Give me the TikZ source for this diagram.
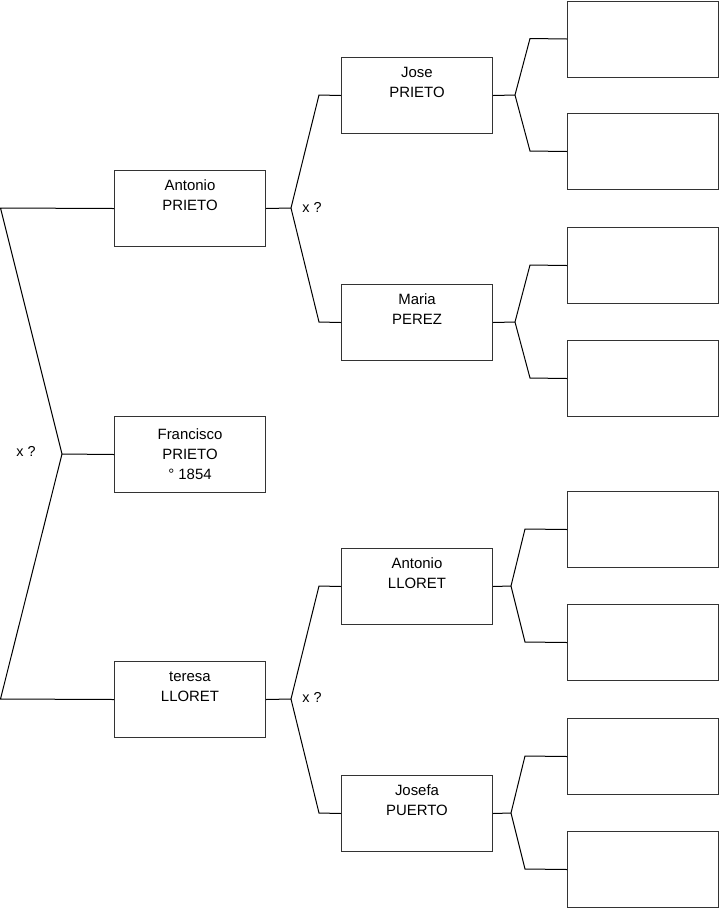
\documentclass[tikz,border=0pt]{standalone}
\usepackage{fontspec}
\setmainfont{Liberation Sans}
\begin{document}
\begin{tikzpicture}[x=0.75pt,y=-0.75pt,
  pbox/.style={draw=black!80, line width=0.75pt, minimum width=113.25pt, minimum height=57pt, anchor=north west, inner sep=0pt, align=center, font=\fontsize{11.2}{15}\selectfont},
  conn/.style={draw=black, line width=0.75pt},
  lbl/.style={font=\fontsize{10.8}{15}\selectfont, inner sep=0pt}]
\useasboundingbox (0,0) rectangle (719,908);
% generation 1
\node[pbox] (b0) at (114,416) {Francisco\\PRIETO\\° 1854};
% generation 2
\node[pbox] (b1) at (114,170) {Antonio\\PRIETO\\\strut};
\node[pbox] (b2) at (114,661) {teresa\\LLORET\\\strut};
% generation 3
\node[pbox] (c1) at (341,57) {Jose\\PRIETO\\\strut};
\node[pbox] (c2) at (341,284) {Maria\\PEREZ\\\strut};
\node[pbox] (c3) at (341,548) {Antonio\\LLORET\\\strut};
\node[pbox] (c4) at (341,775) {Josefa\\PUERTO\\\strut};
% generation 4
\node[pbox] (d1) at (567,0.5) {};
\node[pbox] (d2) at (567,113) {};
\node[pbox] (d3) at (567,227) {};
\node[pbox] (d4) at (567,340) {};
\node[pbox] (d5) at (567,491) {};
\node[pbox] (d6) at (567,604) {};
\node[pbox] (d7) at (567,718) {};
\node[pbox] (d8) at (567,831) {};
% junction coordinates
\coordinate (L0) at (62,454);
\coordinate (L1) at (0.5,208);
\coordinate (L2) at (0.5,699);
\coordinate (M1) at (291,208);
\coordinate (M1a) at (319,95);
\coordinate (M1b) at (319,322);
\coordinate (M2) at (291,699);
\coordinate (M2a) at (319,586);
\coordinate (M2b) at (319,813);
\coordinate (N1) at (515,95);
\coordinate (N1a) at (530,38.5);
\coordinate (N1b) at (530,151);
\coordinate (N2) at (515,322);
\coordinate (N2a) at (530,265);
\coordinate (N2b) at (530,378);
\coordinate (N3) at (511,586);
\coordinate (N3a) at (525,529);
\coordinate (N3b) at (525,642);
\coordinate (N4) at (511,813);
\coordinate (N4a) at (525,756);
\coordinate (N4b) at (525,869);
% connectors
\draw[conn] (b1.west) -- (L1) -- (L0) -- (b0.west);
\draw[conn] (b2.west) -- (L2) -- (L0);
\draw[conn] (b1.east) -- (M1);
\draw[conn] (c1.west) -- (M1a) -- (M1) -- (M1b) -- (c2.west);
\draw[conn] (b2.east) -- (M2);
\draw[conn] (c3.west) -- (M2a) -- (M2) -- (M2b) -- (c4.west);
\draw[conn] (c1.east) -- (N1);
\draw[conn] (d1.west) -- (N1a) -- (N1) -- (N1b) -- (d2.west);
\draw[conn] (c2.east) -- (N2);
\draw[conn] (d3.west) -- (N2a) -- (N2) -- (N2b) -- (d4.west);
\draw[conn] (c3.east) -- (N3);
\draw[conn] (d5.west) -- (N3a) -- (N3) -- (N3b) -- (d6.west);
\draw[conn] (c4.east) -- (N4);
\draw[conn] (d7.west) -- (N4a) -- (N4) -- (N4b) -- (d8.west);
% labels
\node[lbl] (x0) at (26,451) {x ?};
\node[lbl] (x1) at (312,207) {x ?};
\node[lbl] (x2) at (312,697) {x ?};
\end{tikzpicture}
\end{document}
